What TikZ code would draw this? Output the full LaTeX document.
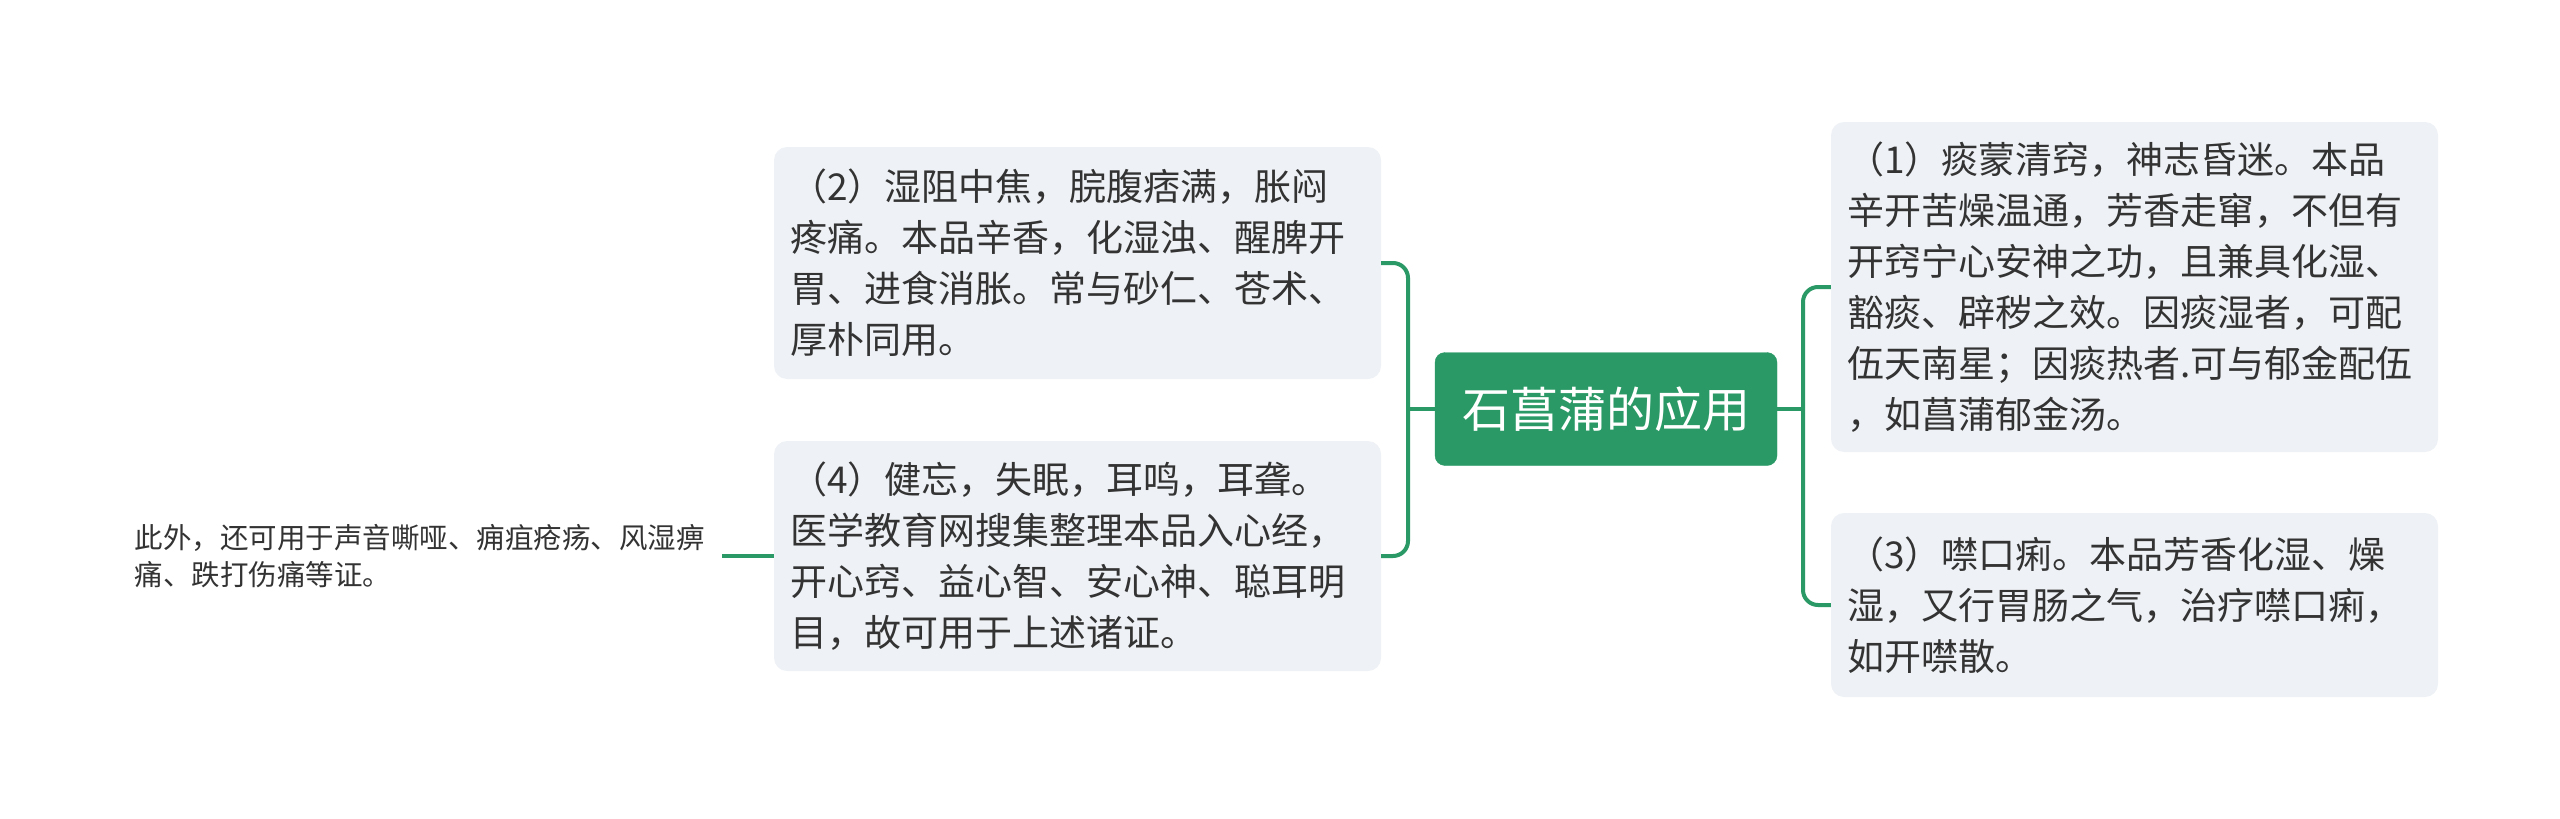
\documentclass[tikz,border=0pt]{standalone}
\usepackage{fontspec}
\newfontfamily\cjk{Noto Sans CJK SC}
\definecolor{mgreen}{HTML}{2A9966}
\definecolor{boxbg}{HTML}{EEF1F5}
\definecolor{txt}{HTML}{333333}
\tikzset{
  topic/.style={draw=none, fill=boxbg, rounded corners=13pt, text=txt, align=left,
    text width=575pt, inner xsep=16pt, inner ysep=0pt,
    font=\cjk\fontsize{37}{51}\selectfont},
  rootbox/.style={fill=mgreen, draw=mgreen, rounded corners=10pt, text=white,
    minimum width=342pt, minimum height=113pt, inner sep=0pt,
    font=\cjk\fontsize{48}{56}\selectfont},
  leafbox/.style={text=txt, align=left, text width=572pt, inner xsep=15pt,
    inner ysep=0pt, font=\cjk\fontsize{28.5}{37.5}\selectfont},
  conn/.style={draw=mgreen, line width=4pt, rounded corners=15pt}
}
\begin{document}
\begin{tikzpicture}[x=1pt,y=-1pt]
\useasboundingbox (0,0) rectangle (2560,819);
\node[rootbox] (root) at (1606,409) {石菖蒲的应用};
\node[topic, minimum height=232pt] (b2) at (1077.5,263)
  {（2）湿阻中焦，脘腹痞满，胀闷\\疼痛。本品辛香，化湿浊、醒脾开\\胃、进食消胀。常与砂仁、苍术、\\厚朴同用。};
\node[topic, minimum height=230pt] (b4) at (1077.5,556)
  {（4）健忘，失眠，耳鸣，耳聋。\\医学教育网搜集整理本品入心经，\\开心窍、益心智、安心神、聪耳明\\目，故可用于上述诸证。};
\node[topic, minimum height=330pt] (b1) at (2134.5,287)
  {（1）痰蒙清窍，神志昏迷。本品\\辛开苦燥温通，芳香走窜，不但有\\开窍宁心安神之功，且兼具化湿、\\豁痰、辟秽之效。因痰湿者，可配\\伍天南星；因痰热者.可与郁金配伍\\，如菖蒲郁金汤。};
\node[topic, minimum height=184pt] (b3) at (2134.5,605)
  {（3）噤口痢。本品芳香化湿、燥\\湿，又行胃肠之气，治疗噤口痢，\\如开噤散。};
\node[leafbox, anchor=east] (leaf) at (722,556)
  {此外，还可用于声音嘶哑、痈疽疮疡、风湿痹\\痛、跌打伤痛等证。};
\coordinate (lj) at (1408,409);
\coordinate (rj) at (1803,409);
\draw[conn] (b2.east) -| (lj) |- (b4.east);
\draw[conn] (root.west) -- (lj);
\draw[conn] (b1.west) -| (rj) |- (b3.west);
\draw[conn] (root.east) -- (rj);
\draw[conn] (b4.west) -- (leaf.east |- b4.west);
\end{tikzpicture}
\end{document}
